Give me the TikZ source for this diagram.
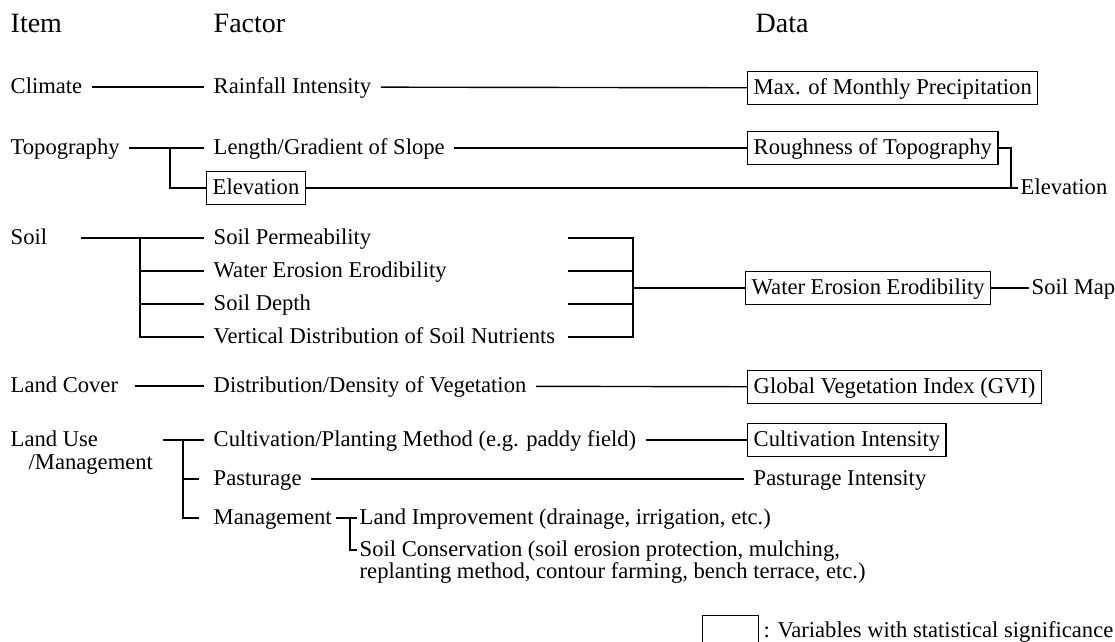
\documentclass[tikz,border=0pt]{standalone}
\usepackage{fontspec}
\setmainfont{Liberation Serif}
\usetikzlibrary{positioning}

\begin{document}
\begin{tikzpicture}[x=1pt, y=-1pt, line width=1.4pt,
    every node/.style={font=\fontsize{22.6}{22.6}\selectfont, text height=17pt, text depth=4pt},
    head/.style={font=\fontsize{28}{28}\selectfont, anchor=base west, inner sep=0pt},
    lbl/.style={anchor=west, inner xsep=9pt},
    tight/.style={anchor=west, inner xsep=2pt},
    databox/.style={draw, anchor=west, inner xsep=6pt, inner ysep=6pt}]
    \useasboundingbox (0,0) rectangle (1115,641);

    % Column heads
    \node[head] (item) at (10,32) {Item};
    \node[head] (factor) at (213,32) {Factor};
    \node[head] (data) at (755,32) {Data};

    % Items
    \node[lbl] (climate) at (1,87) {Climate};
    \node[lbl] (topo) at (1,148) {Topography};
    \node[lbl] (soil) at (1,238) {Soil};
    \node[lbl] (cover) at (1,386) {Land Cover};
    \node[lbl] (landuse) at (1,440) {Land Use};
    \node[lbl] (lumgmt) at (19,463) {/Management};

    % Factors
    \node[lbl] (rain) at (204,87) {Rainfall Intensity};
    \node[lbl] (slope) at (204,148) {Length/Gradient of Slope};
    \node[databox] (elev) at (206,188) {Elevation};
    \node[lbl] (perm) at (204,238) {Soil Permeability};
    \node[lbl] (werod) at (204,271) {Water Erosion Erodibility};
    \node[lbl] (depth) at (204,304) {Soil Depth};
    \node[lbl] (nutr) at (204,337) {Vertical Distribution of Soil Nutrients};
    \node[lbl] (veg) at (204,386) {Distribution/Density of Vegetation};
    \node[lbl] (cult) at (204,440) {Cultivation/Planting Method (e.g. paddy field)};
    \node[lbl] (past) at (204,479) {Pasturage};
    \node[lbl] (mgmt) at (204,518) {Management};
    \node[tight] (landimp) at (357,518) {Land Improvement (drainage, irrigation, etc.)};
    \node[tight] (cons) at (357,550) {Soil Conservation (soil erosion protection, mulching,};
    \node[tight] (cons2) at (357,572) {replanting method, contour farming, bench terrace, etc.)};

    % Data
    \node[databox] (maxp) at (747,88) {Max. of Monthly Precipitation};
    \node[databox] (rough) at (747,148) {Roughness of Topography};
    \node[tight] (elevdata) at (1018,188) {Elevation};
    \node[databox] (werodbox) at (745,288) {Water Erosion Erodibility};
    \node[tight] (soilmap) at (1029,288) {Soil Map};
    \node[databox] (gvi) at (747,387) {Global Vegetation Index (GVI)};
    \node[databox] (cultint) at (747,440) {Cultivation Intensity};
    \node[lbl] (pastint) at (744,479) {Pasturage Intensity};

    % Legend
    \node[draw, anchor=north west, minimum width=56pt, minimum height=36pt] (legbox) at (702,615) {};
    \node[tight] (legtext) at (761,631) {: Variables with statistical significance};

    % Climate, topography
    \draw (climate) -- (rain);
    \draw (rain) -- (maxp);
    \coordinate (tfork) at (170,148);
    \coordinate (ejoin) at (1011,188);
    \draw (topo) -- (slope);
    \draw (tfork) |- (elev);
    \draw (slope) -- (rough);
    \draw (rough) -| (ejoin) -- (elevdata);
    \draw (elev) -- (ejoin);

    % Soil
    \coordinate (sfork) at (140,238);
    \coordinate (sleft) at (568,238);
    \coordinate (sjoin) at (633,288);
    \draw[shorten <=24pt] (soil) -- (perm);
    \draw (sfork) |- (nutr);
    \foreach \n in {werod,depth}
        \draw (sfork |- \n) -- (\n);
    \draw (sleft |- perm) -| (sjoin |- nutr) -- (sleft |- nutr);
    \foreach \n in {werod,depth}
        \draw (sleft |- \n) -- (sjoin |- \n);
    \draw (sjoin) -- (werodbox);
    \draw (werodbox) -- (soilmap);

    % Land cover
    \draw[shorten <=7pt] (cover) -- (veg);
    \draw (veg) -- (gvi);

    % Land use / management
    \coordinate (lufork) at (183,440);
    \coordinate (mfork) at (350,518);
    \draw (lumgmt.east |- cult) -- (cult);
    \draw[shorten >=5pt] (lufork) |- (mgmt);
    \draw[shorten >=5pt] (lufork |- past) -- (past);
    \draw (cult) -- (cultint);
    \draw (past) -- (pastint);
    \draw[shorten <=-5pt] (mgmt) -- (landimp);
    \draw (mfork) |- (cons);
\end{tikzpicture}
\end{document}
